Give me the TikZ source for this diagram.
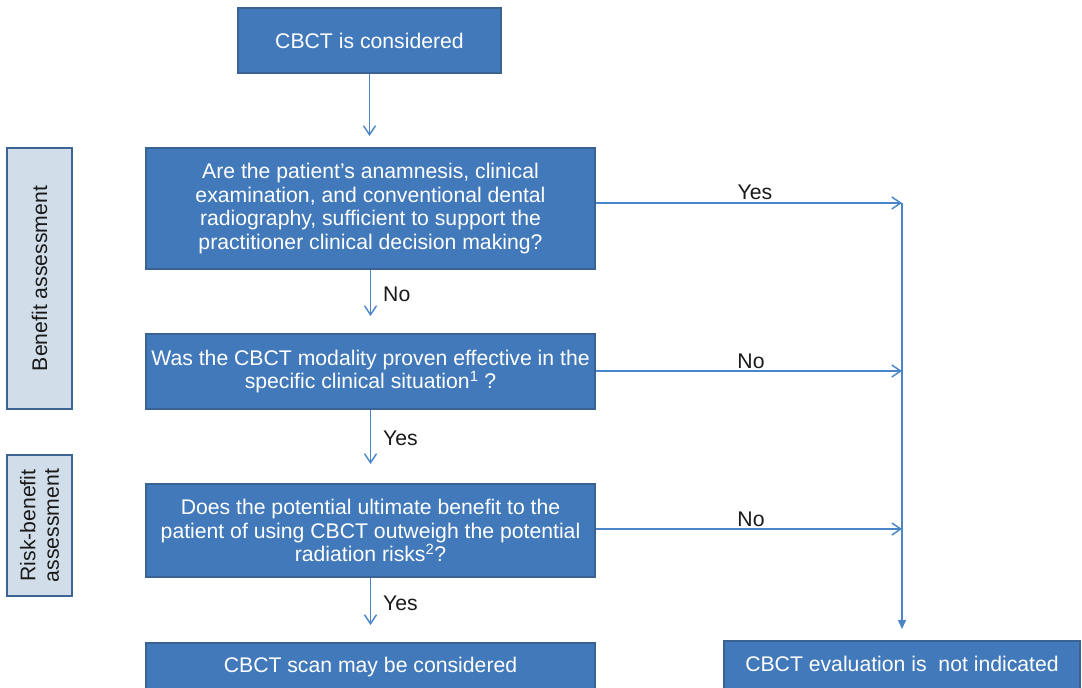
\documentclass[tikz,border=0pt]{standalone}
\usepackage{fontspec}
\setmainfont{Liberation Sans}
\usetikzlibrary{arrows.meta}
\definecolor{boxfill}{HTML}{4279BA}
\definecolor{boxdraw}{HTML}{3A6393}
\definecolor{linec}{HTML}{4A86C7}
\definecolor{lblfill}{HTML}{D1DEEA}
\definecolor{lbldraw}{HTML}{3C6596}
\definecolor{txt}{HTML}{1A1A1A}
\begin{document}
\begin{tikzpicture}[x=1pt,y=-1pt,
  every node/.style={font=\fontsize{21.2}{23.5}\selectfont},
  bluebox/.style={draw=boxdraw,line width=2pt,fill=boxfill,text=white,inner sep=0pt,align=center},
  sidebox/.style={draw=lbldraw,line width=2pt,fill=lblfill,text=txt,inner sep=0pt,align=center,rotate=90},
  conn/.style={draw=linec,line width=1.4pt,-{Straight Barb[length=9pt,width=12pt,line width=1.4pt]}},
  connend/.style={draw=linec,line width=1.4pt,-{Triangle[length=9pt,width=8pt]}},
  edgelbl/.style={text=txt,inner sep=2pt}]
\useasboundingbox (0,0) rectangle (1082,688);
\fill[white] (0,0) rectangle (1082,688);
% boxes
\node[bluebox,minimum width=263pt,minimum height=65pt] (start) at (369.5,40.5) {CBCT is considered};
\node[bluebox,minimum width=449pt,minimum height=121pt] (q1) at (370.5,208.5)
  {Are the patient’s anamnesis, clinical\\examination, and conventional dental\\radiography, sufficient to support the\\practitioner clinical decision making?};
\node[bluebox,minimum width=449pt,minimum height=75pt] (q2) at (370.5,371.5)
  {Was the CBCT modality proven effective in the\\specific clinical situation\textsuperscript{1} ?};
\node[bluebox,minimum width=449pt,minimum height=93pt] (q3) at (370.5,530.5)
  {Does the potential ultimate benefit to the\\patient of using CBCT outweigh the potential\\radiation risks\textsuperscript{2}?};
\node[bluebox,anchor=north,minimum width=449pt,text height=29pt,text depth=30pt] (yes) at (370.5,642) {CBCT scan may be considered};
\node[bluebox,anchor=north,minimum width=356pt,text height=30pt,text depth=30pt] (no) at (902,640) {CBCT evaluation is\ \ not indicated};
% side labels
\node[sidebox,minimum width=261pt,minimum height=65pt] (lbl1) at (39.5,278.5) {Benefit assessment};
\node[sidebox,minimum width=141pt,minimum height=65pt] (lbl2) at (39.5,525.5) {Risk-benefit\\assessment};
% connectors
\coordinate (r1) at (902,203);
\coordinate (r2) at (902,371);
\coordinate (r3) at (902,529);
\draw[conn,shorten >=11pt] (start.south) -- (start.south |- q1.north);
\draw[conn,shorten >=17pt] (q1.south) -- node[edgelbl,anchor=west,xshift=10pt,yshift=7pt] {No} (q2.north);
\draw[conn,shorten >=19pt] (q2.south) -- node[edgelbl,anchor=west,xshift=10pt,yshift=8pt] {Yes} (q3.north);
\draw[conn,shorten >=17pt] (q3.south) -- node[edgelbl,anchor=west,xshift=10pt,yshift=7pt] {Yes} (yes.north);
\draw[conn] (q1.east |- r1) -- node[edgelbl,above,xshift=6pt,yshift=1pt] {Yes} (r1);
\draw[conn] (q2.east |- r2) -- node[edgelbl,above,xshift=2pt] {No} (r2);
\draw[conn] (q3.east |- r3) -- node[edgelbl,above,xshift=2pt] {No} (r3);
\draw[connend,shorten >=11pt] (r1) -- (no.north);
\end{tikzpicture}
\end{document}
